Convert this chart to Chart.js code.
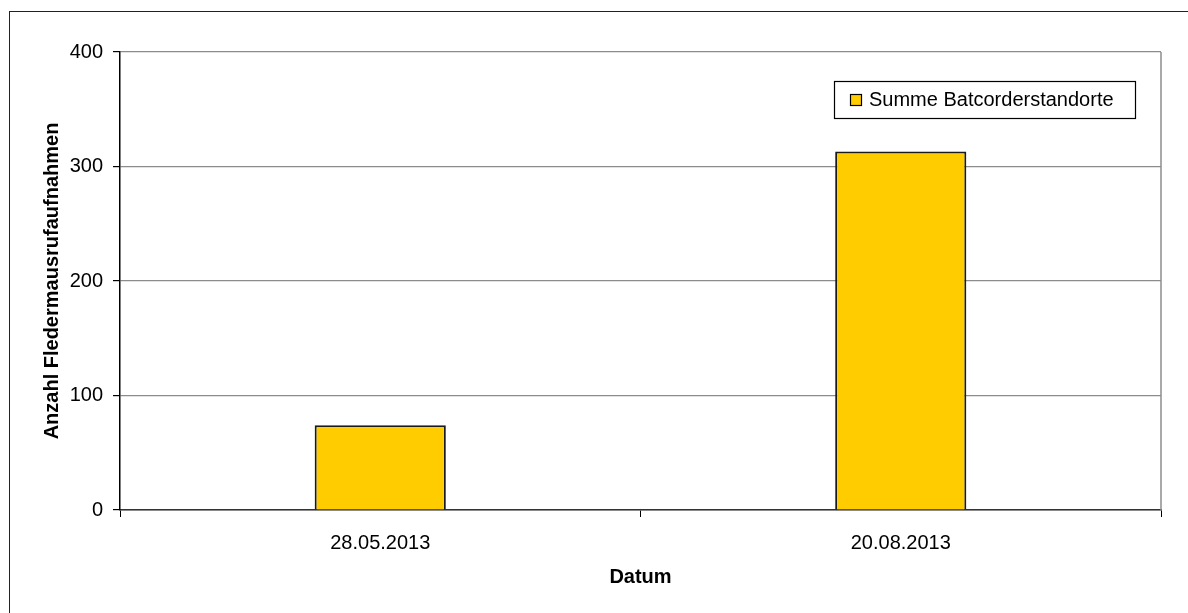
<!DOCTYPE html>
<html>
<head>
<meta charset="utf-8">
<script src="https://cdn.jsdelivr.net/npm/chart.js@4/dist/chart.umd.min.js"></script>
<style>
  html, body { margin:0; padding:0; background:#fff; }
  #wrap { width:1188px; height:613px; position:relative; }
</style>
</head>
<body>
<div id="wrap"><canvas id="chart"></canvas></div>
<script>
let dates = ["28.05.2013", "20.08.2013"];
let counts = [74, 313];
let seriesName = "Summe Batcorderstandorte";
let yTicks = [0, 100, 200, 300, 400];

const FONT = "'Liberation Sans', Arial, sans-serif";

// frame round the whole picture, right border of the plot, legend box
const frame = {
  id: "frame",
  beforeDraw(chart) {
    let ctx = chart.ctx;
    ctx.save();
    ctx.fillStyle = "#fff";
    ctx.fillRect(0, 0, chart.width, chart.height);
    ctx.strokeStyle = "#222";
    ctx.lineWidth = 1;
    ctx.strokeRect(9.5, 11.5, 1300, 700);
    ctx.restore();
  },
  afterDraw(chart) {
    let ctx = chart.ctx, a = chart.chartArea;
    ctx.save();
    ctx.strokeStyle = "#8c8c8c";
    ctx.lineWidth = 1.5;
    ctx.beginPath();
    ctx.moveTo(a.right, a.top);
    ctx.lineTo(a.right, a.bottom);
    ctx.stroke();

    let ds = chart.data.datasets[0];
    let bx = a.right - 327, by = a.top + 29;
    ctx.fillStyle = "#fff";
    ctx.fillRect(bx, by, 301, 37);
    ctx.strokeStyle = "#000";
    ctx.lineWidth = 1.2;
    ctx.strokeRect(bx + 0.5, by + 0.5, 301, 37);
    ctx.fillStyle = ds.backgroundColor;
    ctx.fillRect(bx + 16.5, by + 13.5, 11, 11);
    ctx.strokeRect(bx + 16.5, by + 13.5, 11, 11);
    ctx.fillStyle = "#000";
    ctx.font = "20px " + FONT;
    ctx.textBaseline = "middle";
    ctx.fillText(ds.label, bx + 35, by + 19.5);
    ctx.restore();
  }
};

new Chart(document.getElementById("chart"), {
  type: "bar",
  data: {
    labels: dates,
    datasets: [{
      label: seriesName,
      data: counts,
      backgroundColor: "#ffcc00",
      borderColor: "#1a1a1a",
      borderWidth: 2,
      categoryPercentage: 1,
      barPercentage: 0.252
    }]
  },
  options: {
    responsive: true,
    maintainAspectRatio: false,
    animation: false,
    layout: { padding: { left: 0, top: 52, right: 27, bottom: 0 } },
    plugins: { legend: { display: false }, tooltip: { enabled: false } },
    scales: {
      x: {
        afterFit: s => { s.height = 103; },
        grid: { offset: true, drawOnChartArea: false, tickLength: 7, color: "#000", lineWidth: 1 },
        border: { color: "#333", width: 1.5 },
        ticks: { color: "#000", padding: 14, font: { family: FONT, size: 20 } },
        title: { display: true, text: "Datum", color: "#000", padding: { top: 0, bottom: 24 },
                 font: { family: FONT, size: 20, weight: "bold" } }
      },
      y: {
        min: 0, max: 400,
        afterFit: s => { s.width = 120; },
        afterBuildTicks: s => { s.ticks = yTicks.map(v => ({ value: v })); },
        grid: { color: "#8c8c8c", lineWidth: 1.2, tickLength: 7, tickColor: "#000" },
        border: { color: "#000", width: 1.5 },
        ticks: { color: "#000", padding: 10, font: { family: FONT, size: 20 } },
        title: { display: true, text: "Anzahl Fledermausrufaufnahmen", color: "#000", padding: { top: 40, bottom: 0 },
                 font: { family: FONT, size: 20, weight: "bold" } }
      }
    }
  },
  plugins: [frame]
});
</script>
</body>
</html>
